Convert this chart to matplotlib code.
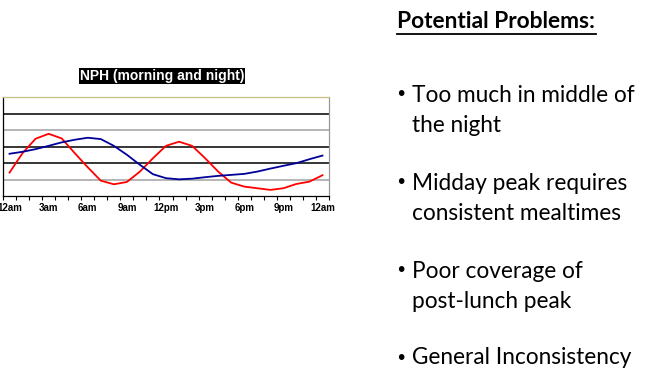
import numpy as np
import matplotlib.pyplot as plt

# horas (25 categorias, de 12am a 12am)
horas = list(range(25))
rotulos = ["12am", "3am", "6am", "9am", "12pm", "3pm", "6pm", "9pm", "12am"]

# curva vermelha (picos de refeicao)
vermelho = [1.42, 2.60, 3.47, 3.77, 3.49, 2.60, 1.74, 0.93, 0.71, 0.85,
            1.48, 2.29, 3.04, 3.29, 3.04, 2.29, 1.48, 0.81, 0.57, 0.47,
            0.37, 0.47, 0.73, 0.87, 1.26]

# curva azul (NPH manha e noite)
azul = [2.56, 2.68, 2.84, 3.04, 3.25, 3.41, 3.53, 3.45, 3.04, 2.50,
        1.89, 1.32, 1.08, 1.01, 1.05, 1.14, 1.22, 1.28, 1.34, 1.48,
        1.66, 1.83, 1.99, 2.23, 2.45]

problemas = [
    ("Too much in middle of", "the night"),
    ("Midday peak requires", "consistent mealtimes"),
    ("Poor coverage of", "post-lunch peak"),
    ("General Inconsistency", None),
]

fig = plt.figure(figsize=(6.6, 3.88), dpi=100)
ax = fig.add_axes([3 / 660, 1 - 196 / 388, 326 / 660, 99 / 388])

ax.plot(horas, vermelho, color="#ff0000", lw=1.3)
ax.plot(horas, azul, color="#000099", lw=1.3)

ax.set_xlim(-0.5, 24.5)
ax.set_ylim(0, 6)

# linhas de grade alternando preto e cinza
cores_grade = {1: "#a0a0a0", 2: "#000000", 3: "#000000", 4: "#a0a0a0", 5: "#000000"}
for yv, c in cores_grade.items():
    ax.axhline(yv, color=c, lw=1.1, zorder=0)

ax.set_yticks([])
ax.set_xticks(np.arange(-0.5, 25, 1), minor=True)
ax.set_xticks(horas[::3])
ax.set_xticklabels(rotulos, fontsize=7, family="Liberation Sans", fontweight="bold")
ax.tick_params(axis="x", which="major", length=0, pad=5)
ax.tick_params(axis="x", which="minor", length=3, width=0.8, direction="out")

ax.spines["top"].set_color("#c8c080")
ax.spines["right"].set_color("#999999")
ax.spines["left"].set_color("#000000")
ax.spines["bottom"].set_color("#000000")
for s in ax.spines.values():
    s.set_linewidth(0.9)

fig.text(162 / 660, 1 - 76 / 388, "NPH (morning and night)", ha="center", va="center",
         fontsize=10, color="white", fontweight="bold", family="Liberation Sans",
         bbox=dict(facecolor="black", edgecolor="none", pad=0.8))

# texto da direita
fig.text(397 / 660, 1 - 22 / 388, "Potential Problems:", ha="left", va="center",
         fontsize=16.4, fontweight="bold", family="Lato", color="black")
fig.add_artist(plt.Line2D([397 / 660, 596 / 660], [1 - 34 / 388, 1 - 34 / 388],
                          color="black", lw=1.3))

ys = [95, 183, 271, 358]
for (l1, l2), yc in zip(problemas, ys):
    fig.text(401 / 660, 1 - yc / 388, "\u2022", ha="center", va="center",
             fontsize=14, family="DejaVu Sans")
    fig.text(412 / 660, 1 - yc / 388, l1, ha="left", va="center",
             fontsize=16.3, family="Lato")
    if l2:
        fig.text(412 / 660, 1 - (yc + 30) / 388, l2, ha="left", va="center",
                 fontsize=16.3, family="Lato")

fig.savefig("out.png", dpi=100)
